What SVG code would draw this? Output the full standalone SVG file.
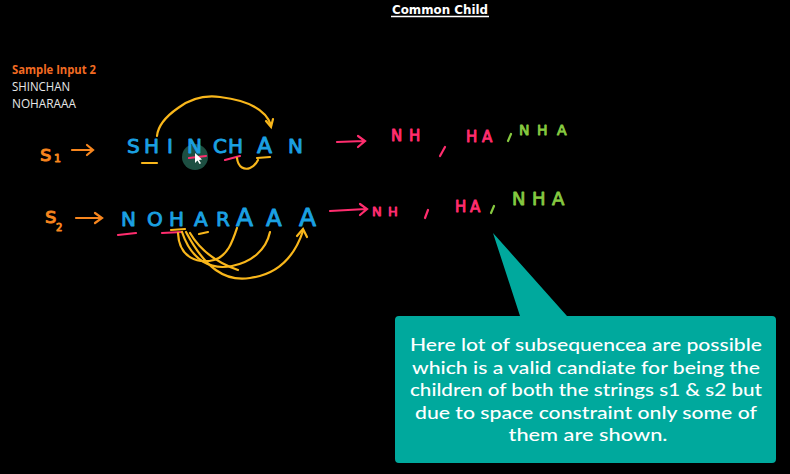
<svg xmlns="http://www.w3.org/2000/svg" width="790" height="474" viewBox="0 0 790 474">
<defs>
<style>
.hw{font-family:"DejaVu Sans","Liberation Sans",sans-serif;stroke-width:0.9;stroke-linejoin:round;}
.blue{fill:#1ba1e2;stroke:#1ba1e2;}
.pink{fill:#ff2d6e;stroke:#ff2d6e;}
.green{fill:#86c940;stroke:#86c940;}
.orange{fill:#f7861e;stroke:#f7861e;}
.ys{stroke:#f9b71b;stroke-width:2.2;fill:none;stroke-linecap:round;}
.ps{stroke:#ff2d6e;stroke-width:2.2;fill:none;stroke-linecap:round;}
.gs{stroke:#86c940;stroke-width:2.2;fill:none;stroke-linecap:round;}
.os{stroke:#f7861e;stroke-width:2.2;fill:none;stroke-linecap:round;}
.call{font-family:Lato,"Open Sans",sans-serif;font-size:17.5px;font-weight:500;fill:#ffffff;text-anchor:middle;}
</style>
</defs>
<rect width="790" height="474" fill="#000000"/>

<g id="title">
<text x="392" y="14" font-family="DejaVu Sans,sans-serif" font-weight="bold" font-size="12.5" fill="#ffffff" textLength="96" lengthAdjust="spacingAndGlyphs">Common Child</text>
<line x1="391" y1="16.5" x2="489" y2="16.5" stroke="#ffffff" stroke-width="1.3"/>
</g>

<g id="sample-input">
<text x="12" y="74" font-family="Open Sans,sans-serif" font-weight="bold" font-size="12" fill="#f26b22" textLength="84" lengthAdjust="spacingAndGlyphs">Sample Input 2</text>
<text x="12" y="91" font-family="Open Sans,sans-serif" font-size="12" fill="#e8e8e8" textLength="58" lengthAdjust="spacingAndGlyphs">SHINCHAN</text>
<text x="12" y="108" font-family="Open Sans,sans-serif" font-size="12" fill="#e8e8e8" textLength="64" lengthAdjust="spacingAndGlyphs">NOHARAAA</text>
</g>

<g id="s1-row">
<text class="hw orange" x="40" y="161" font-size="22">s</text>
<text class="hw orange" x="54" y="162" font-size="11">1</text>
<path class="os" d="M72,150 L92,150 M87,145 L93,150 L87,155"/>
<circle cx="195" cy="157" r="13" fill="#1d4f42"/>
<text class="hw blue" font-size="20" y="153"><tspan x="127">S</tspan><tspan x="144">H</tspan><tspan x="167">I</tspan><tspan x="187">N</tspan><tspan x="213">C</tspan><tspan x="228">H</tspan><tspan x="257" font-size="22">A</tspan><tspan x="288">N</tspan></text>
<line class="ps" x1="189" y1="158" x2="206" y2="156"/>
<path d="M195,153 L195,163 L197.5,160.5 L199.5,164 L201,163.3 L199,160 L202,159.5 Z" fill="#ffffff"/>
<line class="ys" x1="142" y1="163" x2="157" y2="163"/>
<line class="ps" x1="225" y1="160" x2="240" y2="156"/>
<line class="ys" x1="257" y1="158" x2="270" y2="157"/>
<path class="ys" d="M157,136 C158,125 168,115 178,108 C190,99 205,95 220,97 C245,100 265,108 271,125"/>
<path class="ys" d="M266,121 L271,127 L273,119"/>
<path class="ys" d="M237,158 C238,168 245,170 250,168 C255,166 257,162 258,160"/>
<path class="ps" d="M337,142 L364,141 M358,136 L365,141 L358,147"/>
<text class="hw pink" font-size="15" y="141"><tspan x="391">N</tspan><tspan x="409">H</tspan></text>
<line class="ps" x1="445" y1="147" x2="440" y2="156"/>
<text class="hw pink" font-size="15" y="142"><tspan x="466">H</tspan><tspan x="482">A</tspan></text>
<line class="gs" x1="511" y1="134" x2="508" y2="141"/>
<text class="hw green" font-size="14" y="135"><tspan x="519">N</tspan><tspan x="537">H</tspan><tspan x="557">A</tspan></text>
</g>

<g id="s2-row">
<text class="hw orange" x="45" y="223" font-size="22">s</text>
<text class="hw orange" x="56" y="231" font-size="10">2</text>
<path class="os" d="M76,218 L101,218 M95,213 L102,218 L95,223"/>
<text class="hw blue" font-size="20" y="226"><tspan x="121">N</tspan><tspan x="147">O</tspan><tspan x="169">H</tspan><tspan x="194">A</tspan><tspan x="216">R</tspan><tspan x="236" font-size="25">A</tspan><tspan x="266" font-size="23">A</tspan><tspan x="299" font-size="25">A</tspan></text>
<line class="ps" x1="118" y1="235" x2="136" y2="233"/>
<line class="ps" x1="162" y1="233" x2="182" y2="232"/>
<line class="ys" x1="171" y1="230" x2="185" y2="229"/>
<line class="ys" x1="199" y1="234" x2="208" y2="232"/>
<path class="ys" d="M178,233 C179,258 198,264 214,260 C228,256 233,240 237,228"/>
<path class="ys" d="M182,232 C192,262 212,270 232,266 C252,262 266,250 270,232"/>
<path class="ys" d="M186,232 C205,268 225,282 250,278 C280,274 295,255 303,231"/>
<path class="ys" d="M190,233 C200,250 215,262 238,270"/>
<path class="ys" d="M297,236 L303,229 L307,237"/>
<path class="ps" d="M330,211 L366,209 M360,204 L367,209 L360,215"/>
<text class="hw pink" font-size="13" y="216"><tspan x="372">N</tspan><tspan x="388">H</tspan></text>
<line class="ps" x1="428" y1="210" x2="425" y2="218"/>
<text class="hw pink" font-size="15" y="212"><tspan x="455">H</tspan><tspan x="470">A</tspan></text>
<line class="gs" x1="494" y1="206" x2="491" y2="213"/>
<text class="hw green" font-size="18" y="205"><tspan x="512">N</tspan><tspan x="532">H</tspan><tspan x="552">A</tspan></text>
</g>

<g id="callout">
<path d="M399,316 L520,316 L493,233 L567,316 L772,316 Q776,316 776,320 L776,459 Q776,463 772,463 L399,463 Q395,463 395,459 L395,320 Q395,316 399,316 Z" fill="#00a99d"/>
<text class="call" x="586" y="351" textLength="352" lengthAdjust="spacingAndGlyphs">Here lot of subsequencea are possible</text>
<text class="call" x="586" y="374" textLength="348" lengthAdjust="spacingAndGlyphs">which is a valid candiate for being the</text>
<text class="call" x="586" y="396" textLength="352" lengthAdjust="spacingAndGlyphs">children of both the strings s1 &amp; s2 but</text>
<text class="call" x="586" y="419" textLength="342" lengthAdjust="spacingAndGlyphs">due to space constraint only some of</text>
<text class="call" x="588" y="441" textLength="159" lengthAdjust="spacingAndGlyphs">them are shown.</text>
</g>
</svg>
